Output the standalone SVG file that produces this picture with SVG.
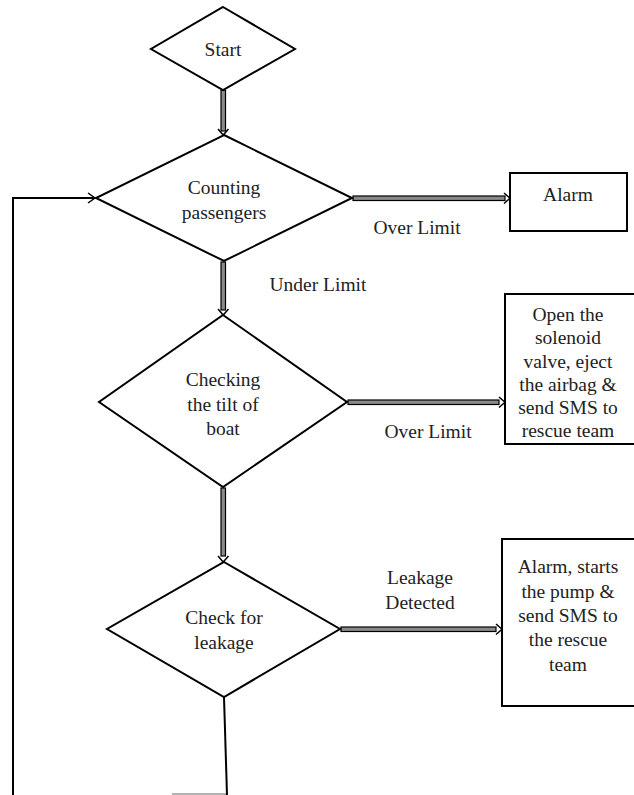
<svg xmlns="http://www.w3.org/2000/svg" width="634" height="795" viewBox="0 0 634 795">
<defs>
<style>
.shape{fill:#fff;stroke:#000;stroke-width:2}
.t{font-family:"Liberation Serif","Times New Roman",serif;font-size:19.5px;fill:#222;text-anchor:middle}
.shaft{fill:#8a8a8a;stroke:#000;stroke-width:1.2}
.line{fill:none;stroke:#000;stroke-width:2}
.head{fill:none;stroke:#000;stroke-width:1.5}
</style>
</defs>
<rect width="634" height="795" fill="#fff"/>
<g id="connectors">
<rect class="shaft" x="221" y="90" width="4.5" height="41"/>
<polyline class="head" points="218,129 223.2,135 228.5,129"/>
<rect class="shaft" x="353" y="196" width="152" height="4.5"/>
<polyline class="head" points="504,193 510,198.2 504,203.5"/>
<rect class="shaft" x="221" y="262" width="4.5" height="48"/>
<polyline class="head" points="218,309 223.2,315 228.5,309"/>
<rect class="shaft" x="348" y="400" width="151" height="4.5"/>
<polyline class="head" points="499,397 505,402.2 499,407.5"/>
<rect class="shaft" x="221" y="488" width="4.5" height="68"/>
<polyline class="head" points="218,556 223.2,562 228.5,556"/>
<rect class="shaft" x="341" y="627" width="155" height="4.5"/>
<polyline class="head" points="496,624 502,629.2 496,634.5"/>
<line class="line" x1="224" y1="697" x2="227" y2="795"/>
<line x1="172" y1="794" x2="227" y2="794" stroke="#000" stroke-width="1.2" opacity="0.6"/>
<polyline class="line" points="13,795 13,198 95,198"/>
<polyline class="head" points="88,193 95,198 88,203"/>
</g>
<g id="start">
<polygon class="shape" points="223,7 295,49 223,90 151,49"/>
<text class="t" x="223" y="56">Start</text>
</g>
<g id="counting">
<polygon class="shape" points="224,135 352,198 224,261 96,198"/>
<text class="t" x="224" y="194">Counting</text>
<text class="t" x="224" y="219">passengers</text>
</g>
<g id="alarm">
<rect class="shape" x="510" y="173" width="117" height="58"/>
<text class="t" x="568" y="201">Alarm</text>
</g>
<g id="label-over1"><text class="t" x="417" y="234">Over Limit</text></g>
<g id="label-under"><text class="t" x="318" y="291">Under Limit</text></g>
<g id="checking">
<polygon class="shape" points="223,315 347,402 223,487 99,402"/>
<text class="t" x="223" y="386">Checking</text>
<text class="t" x="223" y="411">the tilt of</text>
<text class="t" x="223" y="435">boat</text>
</g>
<g id="label-over2"><text class="t" x="428" y="438">Over Limit</text></g>
<g id="solenoid">
<rect class="shape" x="505" y="294" width="140" height="150"/>
<text class="t" x="568" y="321">Open the</text>
<text class="t" x="568" y="344">solenoid</text>
<text class="t" x="568" y="368">valve, eject</text>
<text class="t" x="568" y="391">the airbag &amp;</text>
<text class="t" x="568" y="414">send SMS to</text>
<text class="t" x="568" y="437">rescue team</text>
</g>
<g id="leakage">
<polygon class="shape" points="224,562 340,629 224,697 107,629"/>
<text class="t" x="224" y="624">Check for</text>
<text class="t" x="224" y="649">leakage</text>
</g>
<g id="label-leak">
<text class="t" x="420" y="584">Leakage</text>
<text class="t" x="420" y="609">Detected</text>
</g>
<g id="pump">
<rect class="shape" x="502" y="539" width="143" height="167"/>
<text class="t" x="568" y="573">Alarm, starts</text>
<text class="t" x="568" y="598">the pump &amp;</text>
<text class="t" x="568" y="622">send SMS to</text>
<text class="t" x="568" y="646">the rescue</text>
<text class="t" x="568" y="671">team</text>
</g>
</svg>
